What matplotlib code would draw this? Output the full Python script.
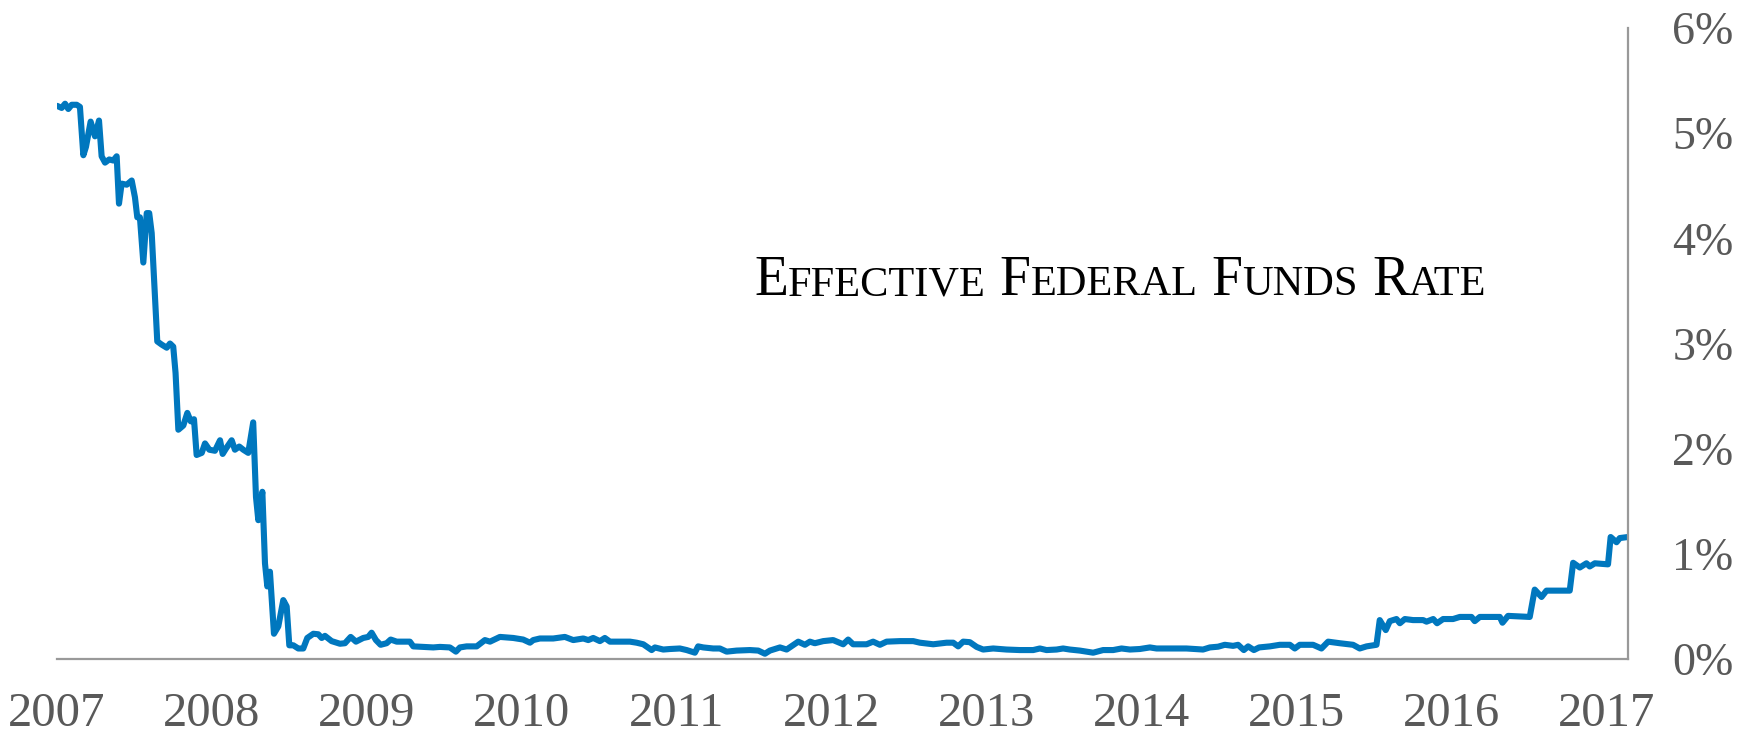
import matplotlib
matplotlib.use("Agg")
import matplotlib.pyplot as plt

# weekly effective fed funds rate (decimal year, percent)
year = [
    2007.000, 2007.030, 2007.052, 2007.073, 2007.095, 2007.127, 2007.148, 2007.170, 2007.187, 2007.217,
    2007.245, 2007.271, 2007.288, 2007.310, 2007.337, 2007.363, 2007.385, 2007.400, 2007.417, 2007.450,
    2007.482, 2007.503, 2007.518, 2007.535, 2007.557, 2007.579, 2007.595, 2007.611, 2007.647, 2007.675,
    2007.708, 2007.729, 2007.750, 2007.765, 2007.783, 2007.815, 2007.841, 2007.863, 2007.884, 2007.901,
    2007.934, 2007.955, 2007.983, 2008.019, 2008.052, 2008.069, 2008.090, 2008.127, 2008.148, 2008.176,
    2008.202, 2008.234, 2008.266, 2008.284, 2008.299, 2008.325, 2008.342, 2008.357, 2008.374, 2008.400,
    2008.428, 2008.460, 2008.482, 2008.499, 2008.525, 2008.557, 2008.589, 2008.615, 2008.654, 2008.686,
    2008.708, 2008.729, 2008.772, 2008.826, 2008.858, 2008.895, 2008.929, 2008.976, 2009.008, 2009.030,
    2009.058, 2009.088, 2009.127, 2009.153, 2009.192, 2009.234, 2009.277, 2009.299, 2009.342, 2009.428,
    2009.471, 2009.535, 2009.574, 2009.600, 2009.643, 2009.708, 2009.761, 2009.794, 2009.858, 2009.944,
    2010.008, 2010.052, 2010.073, 2010.116, 2010.202, 2010.277, 2010.331, 2010.396, 2010.428, 2010.460,
    2010.503, 2010.535, 2010.568, 2010.632, 2010.697, 2010.740, 2010.783, 2010.837, 2010.858, 2010.912,
    2010.955, 2011.019, 2011.063, 2011.116, 2011.137, 2011.170, 2011.234, 2011.277, 2011.321, 2011.385,
    2011.471, 2011.525, 2011.568, 2011.600, 2011.665, 2011.708, 2011.783, 2011.826, 2011.858, 2011.890,
    2011.944, 2012.008, 2012.073, 2012.105, 2012.137, 2012.224, 2012.266, 2012.310, 2012.353, 2012.439,
    2012.525, 2012.568, 2012.654, 2012.740, 2012.783, 2012.815, 2012.847, 2012.890, 2012.934, 2012.976,
    2013.041, 2013.127, 2013.213, 2013.299, 2013.342, 2013.385, 2013.450, 2013.492, 2013.535, 2013.600,
    2013.686, 2013.750, 2013.815, 2013.869, 2013.923, 2013.987, 2014.052, 2014.095, 2014.224, 2014.288,
    2014.395, 2014.439, 2014.492, 2014.535, 2014.589, 2014.621, 2014.658, 2014.686, 2014.723, 2014.757,
    2014.826, 2014.890, 2014.955, 2014.987, 2015.019, 2015.105, 2015.159, 2015.202, 2015.277, 2015.363,
    2015.406, 2015.450, 2015.514, 2015.535, 2015.574, 2015.600, 2015.643, 2015.665, 2015.697, 2015.750,
    2015.815, 2015.837, 2015.880, 2015.905, 2015.944, 2016.008, 2016.052, 2016.127, 2016.148, 2016.181,
    2016.310, 2016.327, 2016.363, 2016.503, 2016.535, 2016.579, 2016.611, 2016.761, 2016.783, 2016.826,
    2016.869, 2016.890, 2016.923, 2017.008, 2017.025, 2017.063, 2017.084, 2017.137,
]
rate = [
    5.26, 5.24, 5.28, 5.23, 5.27, 5.27, 5.25, 4.79, 4.87, 5.11,
    4.97, 5.12, 4.78, 4.72, 4.75, 4.74, 4.78, 4.33, 4.52, 4.51,
    4.55, 4.39, 4.20, 4.20, 3.77, 4.24, 4.24, 4.05, 3.02, 2.99,
    2.96, 3.00, 2.97, 2.72, 2.18, 2.22, 2.34, 2.26, 2.28, 1.94,
    1.96, 2.05, 1.99, 1.98, 2.08, 1.95, 2.00, 2.08, 1.99, 2.02,
    1.99, 1.96, 2.25, 1.54, 1.32, 1.59, 0.91, 0.69, 0.83, 0.24,
    0.31, 0.56, 0.50, 0.13, 0.13, 0.10, 0.10, 0.20, 0.24, 0.235,
    0.20, 0.22, 0.17, 0.145, 0.15, 0.21, 0.165, 0.20, 0.21, 0.25,
    0.18, 0.135, 0.15, 0.185, 0.165, 0.165, 0.165, 0.12, 0.117, 0.11,
    0.115, 0.11, 0.07, 0.11, 0.12, 0.12, 0.18, 0.165, 0.21, 0.20,
    0.185, 0.155, 0.18, 0.195, 0.195, 0.21, 0.18, 0.195, 0.18, 0.20,
    0.17, 0.20, 0.165, 0.165, 0.165, 0.155, 0.14, 0.085, 0.11, 0.09,
    0.095, 0.10, 0.085, 0.06, 0.12, 0.11, 0.10, 0.10, 0.07, 0.08,
    0.085, 0.08, 0.05, 0.08, 0.11, 0.09, 0.165, 0.135, 0.165, 0.15,
    0.17, 0.18, 0.14, 0.185, 0.14, 0.14, 0.165, 0.135, 0.165, 0.17,
    0.17, 0.155, 0.14, 0.155, 0.155, 0.12, 0.165, 0.16, 0.115, 0.09,
    0.10, 0.09, 0.085, 0.085, 0.10, 0.085, 0.09, 0.10, 0.09, 0.08,
    0.06, 0.085, 0.085, 0.10, 0.09, 0.095, 0.11, 0.10, 0.10, 0.10,
    0.09, 0.11, 0.117, 0.135, 0.125, 0.135, 0.085, 0.12, 0.085, 0.11,
    0.12, 0.135, 0.135, 0.10, 0.135, 0.135, 0.10, 0.165, 0.15, 0.135,
    0.10, 0.12, 0.135, 0.37, 0.275, 0.36, 0.38, 0.34, 0.38, 0.37,
    0.37, 0.355, 0.38, 0.34, 0.38, 0.38, 0.40, 0.40, 0.36, 0.40,
    0.40, 0.345, 0.41, 0.40, 0.66, 0.59, 0.65, 0.65, 0.915, 0.87,
    0.91, 0.88, 0.91, 0.90, 1.16, 1.11, 1.15, 1.16,
]

year_ticks = list(range(2007, 2018))
year_labels = [str(y) for y in year_ticks]
pct_ticks = [0, 1, 2, 3, 4, 5, 6]
pct_labels = [f"{p}%" for p in pct_ticks]
title_words = ["EFFECTIVE", "FEDERAL", "FUNDS", "RATE"]

W, H = 1748, 733
SERIF = "Liberation Serif"
GREY = "#595959"

fig = plt.figure(figsize=(W / 100, H / 100), dpi=100)
ax = fig.add_axes([57 / W, 1 - 659 / H, (1628 - 57) / W, (659 - 28) / H])

ax.plot(year, rate, color="#0077BE", lw=4.4, solid_joinstyle="round", solid_capstyle="round")

ax.set_xlim(2007.0, 2017.137)
ax.set_ylim(0, 6)

ax.yaxis.tick_right()
ax.set_yticks(pct_ticks)
ax.set_yticklabels(pct_labels)
ax.set_xticks(year_ticks)
ax.set_xticklabels(year_labels)
ax.tick_params(axis="y", length=0, pad=32, labelsize=33, labelcolor=GREY)
ax.tick_params(axis="x", length=0, pad=24, labelsize=35, labelcolor=GREY)
for lbl in ax.get_xticklabels() + ax.get_yticklabels():
    lbl.set_family(SERIF)

for side in ("top", "left"):
    ax.spines[side].set_visible(False)
for side in ("bottom", "right"):
    ax.spines[side].set_color("#999999")
    ax.spines[side].set_linewidth(1.6)

# title in small caps: big first letter, smaller rest
fig.canvas.draw()
r = fig.canvas.get_renderer()
big, small = 40, 30.5
x, y = 754, H - 295
for w in title_words:
    for txt, size in ((w[0], big), (w[1:], small)):
        t = fig.text(x / W, y / H, txt, fontsize=size, family=SERIF, va="baseline", color="black")
        x = t.get_window_extent(r).x1
    x += big * 100 / 72 * 0.25

fig.savefig("out.png", dpi=100)
